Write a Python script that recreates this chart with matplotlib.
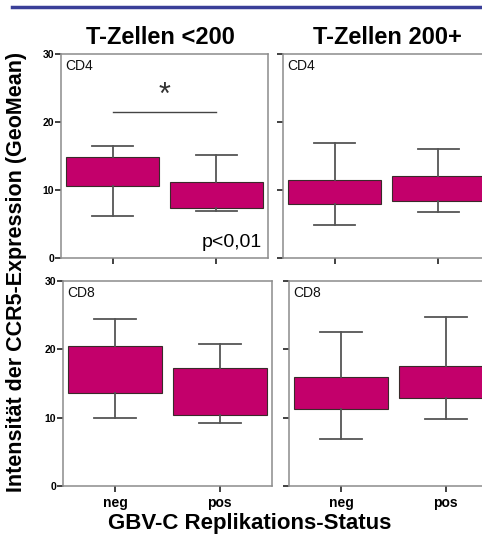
import matplotlib
matplotlib.use("Agg")
import matplotlib.pyplot as plt
from matplotlib.lines import Line2D

plt.rcParams['font.family'] = ['Liberation Sans', 'DejaVu Sans']

categories = ['neg', 'pos']
col_titles = ['T-Zellen <200', 'T-Zellen 200+']
row_labels = ['CD4', 'CD8']
y_ticks = [0, 10, 20, 30]

# [panel] -> values per category (neg, pos)
cd4_low_whislo = [6.2, 6.9]
cd4_low_q1 = [10.6, 7.4]
cd4_low_q3 = [14.8, 11.2]
cd4_low_whishi = [16.5, 15.2]

cd4_high_whislo = [4.8, 6.8]
cd4_high_q1 = [8.0, 8.4]
cd4_high_q3 = [11.5, 12.0]
cd4_high_whishi = [16.9, 16.0]

cd8_low_whislo = [10.0, 9.2]
cd8_low_q1 = [13.6, 10.4]
cd8_low_q3 = [20.5, 17.2]
cd8_low_whishi = [24.5, 20.8]

cd8_high_whislo = [6.9, 9.8]
cd8_high_q1 = [11.2, 12.9]
cd8_high_q3 = [15.9, 17.6]
cd8_high_whishi = [22.5, 24.7]

sig_y = 21.4
p_text = 'p<0,01'

BOX = '#C3006B'
SPINE = '#8c8c8c'

W, H = 482, 539
fig = plt.figure(figsize=(W / 100, H / 100), dpi=100)

def rect(x0, x1, ytop, ybot):
    return [x0 / W, (H - ybot) / H, (x1 - x0) / W, (ybot - ytop) / H]

axes_rects = {
    (0, 0): rect(61, 268, 54, 258),
    (0, 1): rect(283, 490, 54, 258),
    (1, 0): rect(63, 272, 281, 486),
    (1, 1): rect(289, 498, 281, 486),
}
panel_data = {
    (0, 0): (cd4_low_whislo, cd4_low_q1, cd4_low_q3, cd4_low_whishi),
    (0, 1): (cd4_high_whislo, cd4_high_q1, cd4_high_q3, cd4_high_whishi),
    (1, 0): (cd8_low_whislo, cd8_low_q1, cd8_low_q3, cd8_low_whishi),
    (1, 1): (cd8_high_whislo, cd8_high_q1, cd8_high_q3, cd8_high_whishi),
}

axes = {}
for (r, c), rc in axes_rects.items():
    ax = fig.add_axes(rc)
    axes[(r, c)] = ax
    lo, q1, q3, hi = panel_data[(r, c)]
    stats = []
    for i, cat in enumerate(categories):
        stats.append(dict(label=cat, whislo=lo[i], q1=q1[i], med=q1[i],
                          q3=q3[i], whishi=hi[i], fliers=[]))
    ax.bxp(stats, positions=range(len(categories)), widths=0.9,
           capwidths=0.4, patch_artist=True, showfliers=False,
           boxprops=dict(facecolor=BOX, edgecolor='#3a2a2a', linewidth=0.8),
           whiskerprops=dict(color='#555555', linewidth=1.3),
           capprops=dict(color='#555555', linewidth=1.3),
           medianprops=dict(linewidth=0))
    ax.set_xlim(-0.5, 1.5)
    ax.set_ylim(0, 30)
    ax.set_yticks(y_ticks)
    ax.set_xticks(range(len(categories)))
    for s in ax.spines.values():
        s.set_color(SPINE)
        s.set_linewidth(1.1)
    ax.tick_params(axis='both', direction='out', length=4, width=1.3,
                   color='#333333')
    if c == 0:
        ax.set_yticklabels([str(t) for t in y_ticks], fontsize=7.5,
                           fontweight='bold')
        ax.tick_params(axis='y', pad=1)
    else:
        ax.set_yticklabels([])
    if r == 1:
        ax.set_xticklabels(categories, fontsize=10, fontweight='bold')
        ax.tick_params(axis='x', pad=3)
    else:
        ax.set_xticklabels([])
    ax.text(0.02, 0.975, row_labels[r], transform=ax.transAxes,
            fontsize=10, va='top', ha='left', color='#111111')

# significance annotation
ax = axes[(0, 0)]
ax.plot([0, 1], [sig_y, sig_y], color='#444444', linewidth=1.0)
ax.text(0.5, sig_y + 0.2, '*', ha='center', va='bottom', fontsize=22,
        color='#333333')
ax.text(0.97, 0.035, p_text, transform=ax.transAxes, ha='right',
        va='bottom', fontsize=14)

# column titles
fig.text(160 / W, 1 - 38 / H, col_titles[0], ha='center', va='center',
         fontsize=17, fontweight='bold')
fig.text(387 / W, 1 - 38 / H, col_titles[1], ha='center', va='center',
         fontsize=17, fontweight='bold')

# axis labels
fig.text(17 / W, 1 - 272 / H, 'Intensität der CCR5-Expression (GeoMean)',
         rotation=90, ha='center', va='center', fontsize=15.5,
         fontweight='bold')
fig.text(250 / W, 1 - 524 / H, 'GBV-C Replikations-Status', ha='center',
         va='center', fontsize=16, fontweight='bold')

# top blue rule
fig.add_artist(Line2D([12 / W, 1.0], [1 - 7 / H, 1 - 7 / H],
                      transform=fig.transFigure, color='#3a3f98',
                      linewidth=2.5))

fig.savefig('out.png', dpi=100)
